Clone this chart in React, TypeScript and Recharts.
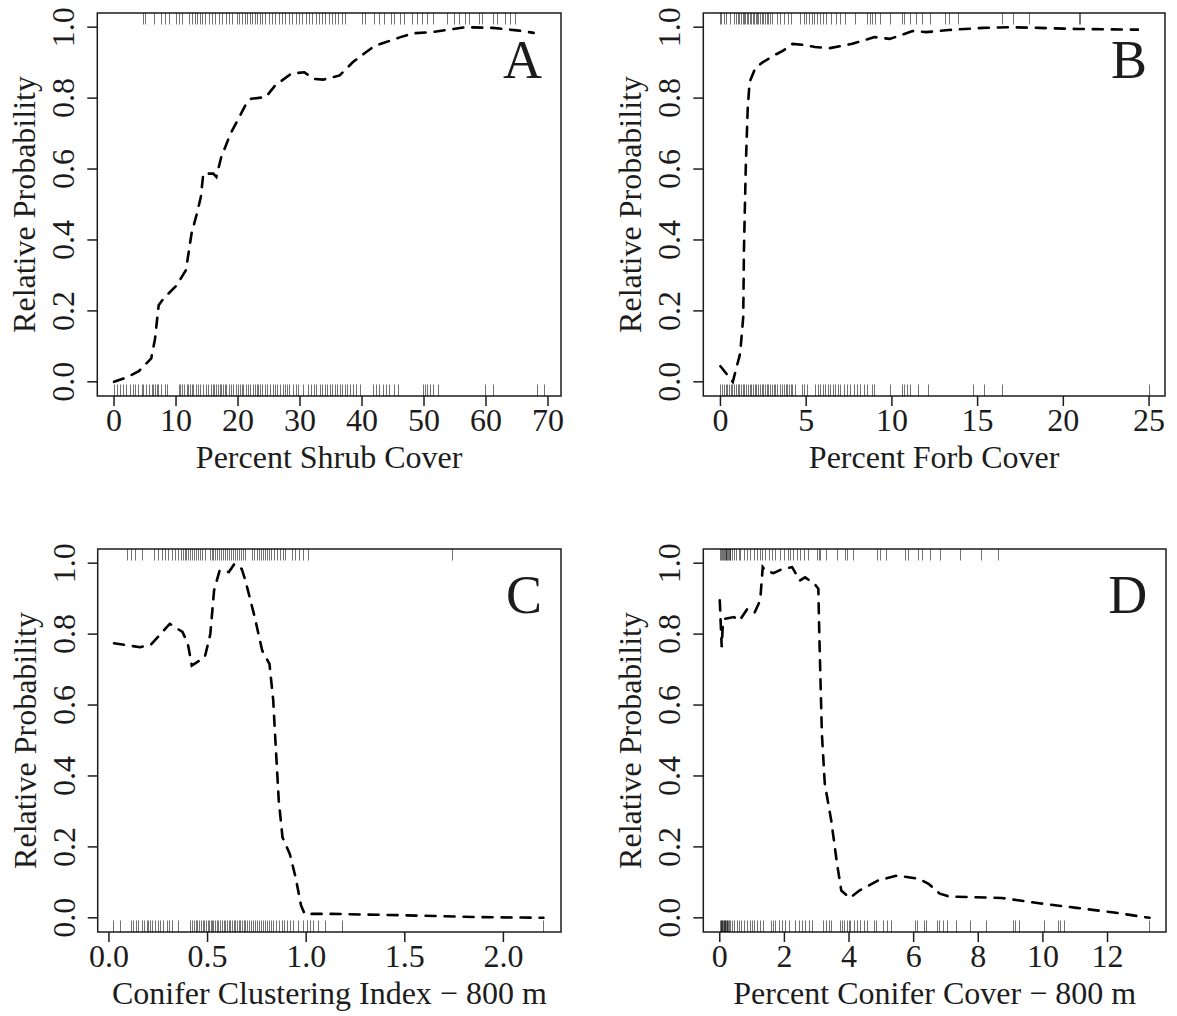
import { ComposedChart, Line, Scatter, XAxis, YAxis, ReferenceArea, ReferenceDot } from "recharts"

const font = "'Liberation Serif', 'Times New Roman', serif"
const ink = "#1c1c1c"

// A - shrub cover
const shrubX = [0, 2, 4, 6, 6.6, 7.2, 8.0, 10.1, 11.6, 12.5, 13.3, 14.0, 14.4, 16.0, 16.5, 17.3, 18.8, 20.3, 21.2, 22.1, 24.5, 26.0, 28.6, 30.7, 32.2, 33.7, 36.4, 38.5, 40.3, 42.1, 43.9, 46.2, 48.3, 51.3, 54.0, 56.7, 61.1, 65.0, 67.7]
const shrubY = [0, 0.012, 0.03, 0.066, 0.12, 0.216, 0.235, 0.272, 0.315, 0.418, 0.47, 0.521, 0.587, 0.587, 0.578, 0.634, 0.7, 0.75, 0.78, 0.798, 0.803, 0.836, 0.869, 0.873, 0.854, 0.852, 0.864, 0.901, 0.925, 0.948, 0.958, 0.972, 0.983, 0.986, 0.993, 1.0, 0.998, 0.991, 0.984]
const shrubUsed = [4.6, 5.0, 6.4, 7.5, 8.2, 8.9, 10.0, 10.5, 11.0, 12.1, 12.5, 13.0, 13.4, 13.8, 14.2, 14.7, 15.3, 15.8, 16.3, 16.9, 17.4, 18.0, 18.5, 19.1, 19.9, 20.2, 20.7, 21.1, 21.5, 21.9, 22.3, 22.7, 23.1, 23.5, 23.9, 24.4, 25.0, 25.5, 26.0, 26.6, 27.1, 27.6, 28.2, 28.7, 29.3, 29.8, 30.3, 30.9, 31.4, 31.9, 32.5, 33.0, 33.5, 34.1, 34.6, 35.2, 35.7, 36.2, 36.8, 37.3, 40.0, 40.5, 41.9, 42.7, 43.5, 44.6, 45.1, 46.2, 46.7, 48.0, 48.8, 49.7, 50.5, 51.5, 53.7, 54.8, 55.6, 56.6, 57.2, 58.8, 59.3, 61.2, 61.7, 63.1, 63.9, 64.7]
const shrubAvail = [0, 0.4, 1.0, 1.5, 2.0, 2.5, 3.0, 3.4, 3.9, 4.5, 4.7, 5.2, 5.7, 6.1, 6.3, 6.6, 6.9, 7.1, 7.5, 8.2, 8.6, 10.4, 10.6, 10.9, 11.3, 11.7, 12.0, 12.2, 12.5, 12.8, 13.2, 13.6, 13.8, 14.4, 14.8, 15.2, 15.6, 15.9, 16.1, 16.4, 16.8, 17.1, 17.3, 17.6, 17.9, 18.1, 18.6, 18.9, 19.2, 19.6, 20.0, 20.3, 20.6, 20.8, 21.3, 21.6, 21.9, 22.4, 22.7, 23.0, 23.2, 23.5, 23.9, 24.3, 24.7, 25.1, 25.6, 25.9, 26.3, 26.7, 27.2, 27.5, 27.9, 28.3, 28.9, 29.3, 29.7, 30.5, 31.3, 31.8, 32.2, 32.6, 33.2, 33.6, 34.0, 34.4, 34.8, 35.2, 35.6, 36.0, 36.4, 36.8, 37.2, 37.6, 38.0, 38.5, 39.1, 39.6, 41.8, 42.2, 42.8, 43.4, 43.9, 44.4, 45.1, 45.8, 49.8, 50.1, 50.5, 51.0, 51.5, 52.2, 59.9, 61.2, 68.3, 69.4]
const shrubTicks = [0, 10, 20, 30, 40, 50, 60, 70]

// B - forb cover
const forbX = [0, 0.72, 1.15, 1.33, 1.37, 1.48, 1.59, 1.7, 2.02, 2.46, 3.11, 3.66, 4.2, 4.86, 5.51, 6.38, 7.69, 8.99, 9.87, 10.5, 11.2, 12.0, 13.3, 15.3, 16.9, 18.6, 20.8, 24.35]
const forbY = [0.044, 0.0, 0.08, 0.183, 0.37, 0.61, 0.77, 0.845, 0.883, 0.901, 0.92, 0.934, 0.953, 0.95, 0.944, 0.941, 0.953, 0.972, 0.967, 0.977, 0.989, 0.986, 0.992, 0.998, 1.0, 0.998, 0.995, 0.993]
const forbUsed = [0.0, 0.04, 0.19, 0.35, 0.58, 0.78, 0.9, 1.0, 1.1, 1.2, 1.3, 1.38, 1.45, 1.55, 1.62, 1.7, 1.8, 1.88, 1.95, 2.05, 2.12, 2.2, 2.3, 2.4, 2.5, 2.6, 2.7, 2.8, 2.9, 3.0, 3.3, 3.5, 3.69, 3.92, 4.12, 4.66, 4.85, 5.0, 5.15, 5.34, 5.48, 5.63, 5.79, 5.98, 6.17, 6.45, 6.76, 6.99, 7.28, 7.86, 8.54, 8.7, 8.83, 9.03, 9.32, 9.9, 10.58, 10.72, 11.07, 11.42, 11.75, 12.23, 13.1, 13.36, 13.88, 16.41, 17.05, 18.0, 20.93, 21.0]
const forbAvail = [0.0, 0.1, 0.18, 0.3, 0.4, 0.5, 0.6, 0.7, 0.8, 0.9, 1.0, 1.1, 1.2, 1.3, 1.4, 1.5, 1.6, 1.7, 1.8, 1.9, 2.0, 2.1, 2.2, 2.3, 2.4, 2.5, 2.6, 2.7, 2.8, 2.9, 3.0, 3.1, 3.2, 3.3, 3.45, 3.6, 3.7, 3.8, 3.9, 4.0, 4.1, 4.2, 4.35, 4.76, 4.89, 5.05, 5.53, 5.67, 5.83, 5.98, 6.12, 6.27, 6.41, 6.56, 6.7, 6.83, 6.95, 7.18, 7.38, 7.53, 7.77, 7.96, 8.12, 8.35, 8.54, 8.83, 8.93, 9.9, 10.58, 10.72, 10.87, 11.03, 11.5, 12.1, 14.72, 15.38, 16.41, 25.0]
const forbTicks = [0, 5, 10, 15, 20, 25]

// C - conifer clustering index
const clusterX = [0.026, 0.158, 0.214, 0.308, 0.373, 0.4, 0.42, 0.486, 0.514, 0.533, 0.561, 0.608, 0.636, 0.673, 0.692, 0.739, 0.777, 0.814, 0.833, 0.842, 0.861, 0.88, 0.917, 0.946, 0.974, 0.992, 1.133, 1.508, 1.884, 2.203]
const clusterY = [0.774, 0.763, 0.771, 0.829, 0.806, 0.773, 0.711, 0.735, 0.8, 0.923, 0.979, 0.975, 0.998, 0.984, 0.951, 0.848, 0.754, 0.716, 0.613, 0.519, 0.331, 0.227, 0.18, 0.115, 0.035, 0.011, 0.011, 0.007, 0.002, 0.0]
const clusterUsed = [0.09, 0.112, 0.132, 0.166, 0.23, 0.25, 0.267, 0.284, 0.3, 0.321, 0.335, 0.352, 0.365, 0.375, 0.385, 0.39, 0.4, 0.41, 0.42, 0.43, 0.44, 0.45, 0.46, 0.47, 0.487, 0.512, 0.52, 0.53, 0.54, 0.55, 0.56, 0.57, 0.58, 0.59, 0.6, 0.61, 0.62, 0.63, 0.64, 0.65, 0.66, 0.67, 0.68, 0.69, 0.723, 0.735, 0.75, 0.76, 0.77, 0.78, 0.79, 0.8, 0.81, 0.82, 0.835, 0.85, 0.865, 0.88, 0.892, 0.926, 0.943, 0.963, 0.985, 1.011, 1.738]
const clusterAvail = [0.022, 0.056, 0.112, 0.123, 0.135, 0.149, 0.166, 0.179, 0.191, 0.199, 0.208, 0.216, 0.233, 0.247, 0.259, 0.276, 0.292, 0.304, 0.318, 0.352, 0.41, 0.42, 0.43, 0.44, 0.445, 0.455, 0.465, 0.475, 0.48, 0.49, 0.5, 0.505, 0.515, 0.52, 0.53, 0.54, 0.55, 0.555, 0.565, 0.575, 0.585, 0.59, 0.6, 0.61, 0.615, 0.625, 0.635, 0.64, 0.65, 0.66, 0.665, 0.675, 0.685, 0.69, 0.7, 0.71, 0.72, 0.73, 0.74, 0.75, 0.76, 0.77, 0.78, 0.79, 0.8, 0.81, 0.82, 0.83, 0.845, 0.86, 0.875, 0.89, 0.905, 0.92, 0.935, 0.96, 0.985, 1.002, 1.019, 1.036, 1.058, 1.095, 1.18, 2.203]
const clusterTicks = [0, 0.5, 1.0, 1.5, 2.0]

// D - conifer cover
const coverX = [0, 0.06, 0.09, 0.15, 0.44, 0.61, 0.85, 1.08, 1.25, 1.33, 1.42, 1.66, 1.95, 2.24, 2.47, 2.64, 2.93, 3.05, 3.08, 3.16, 3.25, 3.45, 3.63, 3.76, 4.03, 4.32, 4.9, 5.48, 6.17, 6.46, 6.81, 7.1, 8.72, 9.88, 11.04, 12.2, 13.3]
const coverY = [0.895, 0.763, 0.82, 0.843, 0.848, 0.838, 0.871, 0.861, 0.895, 0.989, 0.979, 0.972, 0.984, 0.989, 0.951, 0.96, 0.942, 0.928, 0.8, 0.519, 0.378, 0.274, 0.152, 0.077, 0.056, 0.077, 0.105, 0.119, 0.11, 0.096, 0.068, 0.06, 0.056, 0.041, 0.028, 0.015, 0.0]
const coverUsed = [0.02, 0.04, 0.07, 0.1, 0.12, 0.15, 0.18, 0.2, 0.23, 0.26, 0.28, 0.31, 0.33, 0.38, 0.43, 0.51, 0.59, 0.64, 0.74, 0.84, 0.95, 1.05, 1.15, 1.24, 1.31, 1.41, 1.51, 1.62, 1.72, 1.87, 1.98, 2.1, 2.18, 2.27, 2.39, 2.49, 2.6, 2.72, 3.01, 3.06, 3.11, 3.3, 3.63, 3.88, 3.93, 4.12, 4.86, 4.96, 5.15, 5.74, 5.84, 6.15, 6.25, 6.51, 6.82, 7.44, 8.08, 8.6]
const coverAvail = [0.02, 0.03, 0.05, 0.06, 0.08, 0.1, 0.12, 0.14, 0.15, 0.17, 0.19, 0.21, 0.23, 0.25, 0.28, 0.33, 0.38, 0.43, 0.54, 0.59, 0.66, 0.74, 0.84, 0.93, 1.0, 1.05, 1.15, 1.26, 1.34, 1.59, 1.65, 1.72, 1.82, 1.93, 2.03, 2.13, 2.34, 2.44, 2.54, 2.65, 2.75, 2.85, 3.21, 3.3, 3.37, 3.44, 3.73, 3.78, 3.85, 3.93, 3.99, 4.04, 4.14, 4.24, 4.33, 4.45, 4.55, 4.76, 4.84, 5.05, 5.17, 5.29, 6.05, 6.1, 6.32, 6.39, 6.71, 6.8, 6.92, 7.02, 7.31, 7.74, 8.24, 9.08, 9.13, 9.27, 10.03, 10.47, 10.53, 10.66, 13.29]
const coverTicks = [0, 2, 4, 6, 8, 10, 12]

const probTicks = [0, 0.2, 0.4, 0.6, 0.8, 1.0]
const Y_LO = -0.04
const Y_HI = 1.04

const YW = 60
const XH = 30

const toPoints = (xs: number[], ys: number[]) => xs.map((x, i) => ({ x, y: ys[i] }))
const toRug = (xs: number[], y: number) => xs.map((x) => ({ x, y }))

// rug tick: short line from the box edge into the plot
const RugTick = (props: any) => {
  const { cx, cy, payload } = props
  const len = payload.y < 0.5 ? -11.5 : 11.5
  const px = Math.round(cx) + 0.5
  return <line x1={px} x2={px} y1={cy} y2={cy + len} stroke="#000" strokeOpacity={0.55} strokeWidth={1} />
}

const Panel = ({ left, top, w, h, box, xs, ys, used, avail, domain, ticks, digits, title, letter, letterAt }: any) => {
  const margin = { left: box[0] - YW, top: box[1], right: w - box[2], bottom: h - box[3] - XH }
  return (
    <div style={{ position: "absolute", left, top }}>
      <ComposedChart width={w} height={h} margin={margin}>
        <XAxis
          type="number"
          dataKey="x"
          domain={domain}
          ticks={ticks}
          allowDataOverflow
          height={XH}
          axisLine={false}
          tickSize={10}
          tickMargin={0}
          tickLine={{ stroke: ink, strokeWidth: 1.5 }}
          tick={(p: any) => (
            <text x={p.x} y={p.y + 24.5} textAnchor="middle" fontFamily={font} fontSize={32} fill={ink}>
              {Number(p.payload.value).toFixed(digits)}
            </text>
          )}
          label={(p: any) => {
            const vb = p.viewBox
            return (
              <text x={vb.x + vb.width / 2} y={vb.y + 72} textAnchor="middle" fontFamily={font} fontSize={32} fill={ink}>
                {title}
              </text>
            )
          }}
        />
        <YAxis
          type="number"
          dataKey="y"
          domain={[Y_LO, Y_HI]}
          ticks={probTicks}
          allowDataOverflow
          width={YW}
          axisLine={false}
          tickSize={10}
          tickMargin={0}
          tickLine={{ stroke: ink, strokeWidth: 1.5 }}
          tick={(p: any) => {
            const bx = p.x - 13
            return (
              <text x={bx} y={p.y} transform={`rotate(-90 ${bx} ${p.y})`} textAnchor="middle" fontFamily={font} fontSize={32} fill={ink}>
                {Number(p.payload.value).toFixed(1)}
              </text>
            )
          }}
          label={(p: any) => {
            const vb = p.viewBox
            const bx = vb.x + vb.width - 62
            const cy = vb.y + vb.height / 2
            return (
              <text x={bx} y={cy} transform={`rotate(-90 ${bx} ${cy})`} textAnchor="middle" fontFamily={font} fontSize={32} fill={ink}>
                Relative Probability
              </text>
            )
          }}
        />
        <ReferenceArea x1={domain[0]} x2={domain[1]} y1={Y_LO} y2={Y_HI} fill="none" stroke={ink} strokeWidth={1.5} ifOverflow="visible" />
        <Scatter data={toRug(avail, Y_LO)} shape={RugTick} isAnimationActive={false} />
        <Scatter data={toRug(used, Y_HI)} shape={RugTick} isAnimationActive={false} />
        <Line
          data={toPoints(xs, ys)}
          dataKey="y"
          type="linear"
          stroke="#000"
          strokeWidth={2.6}
          strokeDasharray="10 9"
          strokeLinecap="round"
          dot={false}
          activeDot={false}
          isAnimationActive={false}
        />
        <ReferenceDot
          x={letterAt[0]}
          y={letterAt[1]}
          r={0}
          shape={(p: any) => (
            <text x={p.cx} y={p.cy} textAnchor="middle" fontFamily={font} fontSize={54} fill={ink}>
              {letter}
            </text>
          )}
        />
      </ComposedChart>
    </div>
  )
}

export default function App() {
  return (
    <div style={{ position: "absolute", left: 0, top: 0, width: 1177, height: 1016, background: "#fff" }}>
      <Panel left={0} top={0} w={588} h={508} box={[97.3, 13, 561, 396]}
        xs={shrubX} ys={shrubY} used={shrubUsed} avail={shrubAvail}
        domain={[-2.7, 72.1]} ticks={shrubTicks} digits={0}
        title="Percent Shrub Cover" letter="A" letterAt={[65.9, 0.856]} />
      <Panel left={588} top={0} w={589} h={508} box={[115.3, 13, 577, 396]}
        xs={forbX} ys={forbY} used={forbUsed} avail={forbAvail}
        domain={[-1.0, 25.93]} ticks={forbTicks} digits={0}
        title="Percent Forb Cover" letter="B" letterAt={[23.83, 0.856]} />
      <Panel left={0} top={508} w={588} h={508} box={[97.7, 41, 561, 424]}
        xs={clusterX} ys={clusterY} used={clusterUsed} avail={clusterAvail}
        domain={[-0.057, 2.292]} ticks={clusterTicks} digits={1}
        title="Conifer Clustering Index − 800 m" letter="C" letterAt={[2.104, 0.86]} />
      <Panel left={588} top={508} w={589} h={508} box={[115.3, 41, 578, 424]}
        xs={coverX} ys={coverY} used={coverUsed} avail={coverAvail}
        domain={[-0.51, 13.81]} ticks={coverTicks} digits={0}
        title="Percent Conifer Cover − 800 m" letter="D" letterAt={[12.63, 0.86]} />
    </div>
  )
}
